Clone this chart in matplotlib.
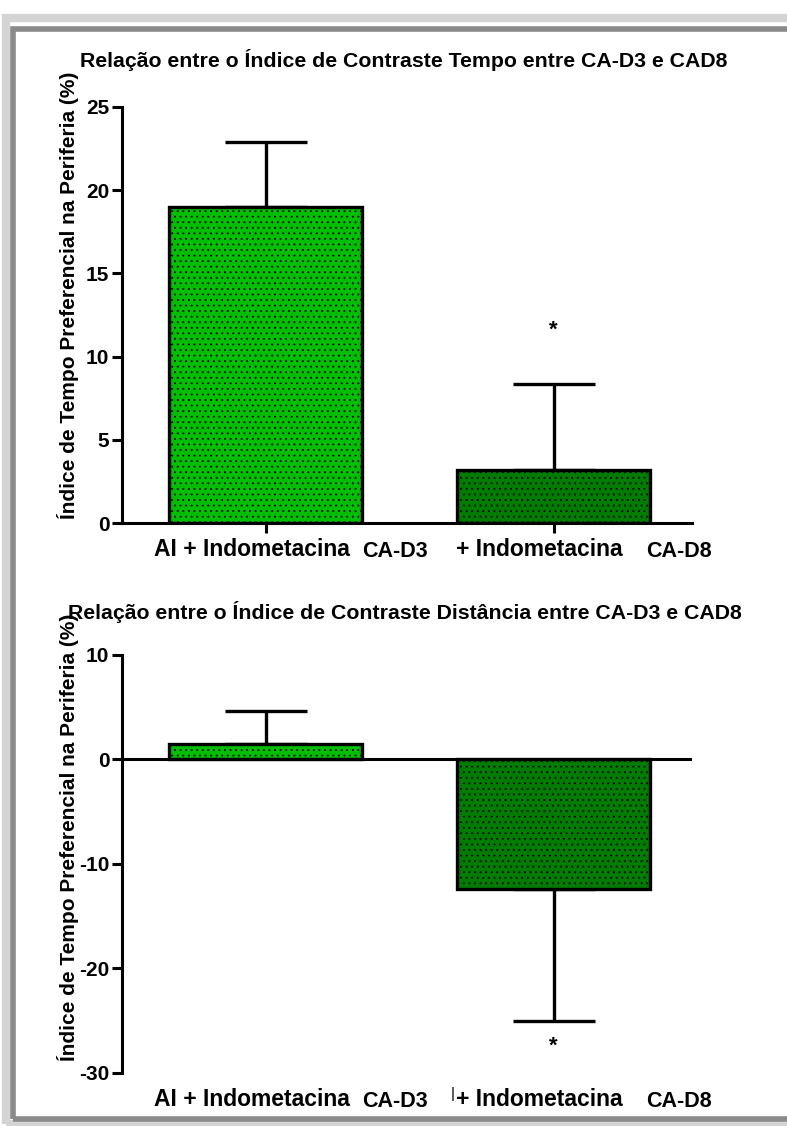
import matplotlib.pyplot as plt
from matplotlib.patches import Rectangle

# Dados
grupos = ['AI + Indometacina', '+ Indometacina']
sufixos = ['CA-D3', 'CA-D8']
cores = ['#00bf00', '#007d00']

tempo_media = [19.0, 3.2]
tempo_erro = [3.9, 5.15]
tempo_sig = [None, 11.6]

dist_media = [1.5, -12.4]
dist_erro = [3.1, 12.6]
dist_sig = [None, -27.4]

plt.rcParams['font.family'] = ['Liberation Sans', 'DejaVu Sans']
plt.rcParams['hatch.linewidth'] = 0.6

fig = plt.figure(figsize=(7.87, 11.26), dpi=100)

# moldura cinza
fig.patches.append(Rectangle((0.008, 0.002), 1.2, 0.982, transform=fig.transFigure,
                             fill=False, edgecolor='#d4d4d4', linewidth=6, zorder=0))
fig.patches.append(Rectangle((0.017, 0.006), 1.2, 0.968, transform=fig.transFigure,
                             fill=False, edgecolor='#8a8a8a', linewidth=4, zorder=1))

x = [0, 1]
W = 0.67


def desenha(ax, medias, erros, sig, ylim, yticks):
    ax.bar(x, medias, width=W, color=cores, edgecolor='black', linewidth=2.4,
           hatch='...', zorder=3)
    for i in range(2):
        if medias[i] >= 0:
            yerr = [[0], [erros[i]]]
        else:
            yerr = [[erros[i]], [0]]
        ax.errorbar(x[i], medias[i], yerr=yerr, fmt='none', ecolor='black',
                    elinewidth=2.4, capsize=29.5, capthick=2.4, zorder=2)
        if sig[i] is not None:
            ax.text(x[i], sig[i], '*', ha='center', va='center', fontsize=16,
                    fontweight='bold')
    ax.set_xlim(-0.5, 1.48)
    ax.set_ylim(*ylim)
    ax.set_yticks(yticks)
    ax.set_yticklabels([str(t) for t in yticks], fontsize=15, fontweight='bold')
    ax.spines['top'].set_visible(False)
    ax.spines['right'].set_visible(False)
    ax.spines['left'].set_linewidth(2.2)
    ax.spines['bottom'].set_linewidth(2.2)
    ax.tick_params(axis='y', width=2.2, length=7, pad=2)
    # rótulos das categorias
    tr = ax.get_xaxis_transform()
    for i in range(2):
        ax.text(x[i] - 0.05, -0.036, grupos[i], transform=tr, ha='center',
                va='top', fontsize=16.5, fontweight='bold')
        ax.text(x[i] + 0.447 - 0.01 * i, -0.042, sufixos[i], transform=tr,
                ha='center', va='top', fontsize=15.5, fontweight='bold')


# gráfico de tempo
ax1 = fig.add_axes([0.155, 0.5355, 0.724, 0.3695])
desenha(ax1, tempo_media, tempo_erro, tempo_sig, (0, 25), [0, 5, 10, 15, 20, 25])
ax1.set_xticks(x)
ax1.set_xticklabels(['', ''])
ax1.tick_params(axis='x', width=2.2, length=7)

# gráfico de distância
ax2 = fig.add_axes([0.155, 0.0471, 0.724, 0.3712])
desenha(ax2, dist_media, dist_erro, dist_sig, (-30, 10), [-30, -20, -10, 0, 10])
ax2.spines['bottom'].set_visible(False)
ax2.axhline(0, color='black', linewidth=2.2, zorder=4)
ax2.set_xticks([])
ax2.text(0.65, -0.034, '|', transform=ax2.get_xaxis_transform(), ha='center',
         va='top', fontsize=11)

fig.text(0.513, 0.9467, 'Relação entre o Índice de Contraste Tempo entre CA-D3 e CAD8',
         ha='center', va='center', fontsize=15.3, fontweight='bold')
fig.text(0.515, 0.4565, 'Relação entre o Índice de Contraste Distância entre CA-D3 e CAD8',
         ha='center', va='center', fontsize=15.3, fontweight='bold')

fig.text(0.087, 0.738, 'Índice de Tempo Preferencial na Periferia (%)', rotation=90,
         ha='center', va='center', fontsize=15, fontweight='bold')
fig.text(0.087, 0.256, 'Índice de Tempo Preferencial na Periferia (%)', rotation=90,
         ha='center', va='center', fontsize=15, fontweight='bold')

fig.savefig('out.png', dpi=100)
